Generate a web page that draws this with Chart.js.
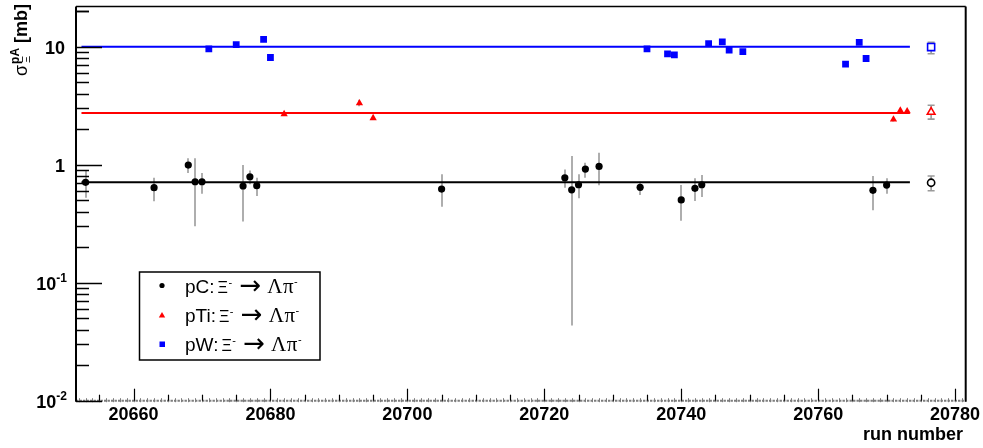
<!DOCTYPE html>
<html><head><meta charset="utf-8">
<script src="https://cdn.jsdelivr.net/npm/chart.js@4/dist/chart.umd.min.js"></script>
<style>html,body{margin:0;padding:0;background:#fff;}canvas{display:block;}</style>
</head><body>
<canvas id="c" width="983" height="448"></canvas>
<script>
// ---- data ----
const pcRuns = [20653, 20663, 20668, 20669, 20670, 20676, 20677, 20678, 20705, 20723, 20724, 20725, 20726, 20728, 20734, 20740, 20742, 20743, 20768, 20770];
const pcVals = [0.708, 0.637, 0.99, 0.716, 0.716, 0.659, 0.789, 0.663, 0.621, 0.774, 0.612, 0.675, 0.916, 0.966, 0.642, 0.502, 0.630, 0.675, 0.606, 0.671];
const pcLo   = [0.524, 0.49, 0.85, 0.30, 0.567, 0.33, 0.68, 0.542, 0.44, 0.637, 0.0434, 0.519, 0.774, 0.67, 0.553, 0.334, 0.492, 0.532, 0.41, 0.567];
const pcHi   = [0.881, 0.774, 1.13, 1.13, 0.85, 0.99, 0.893, 0.774, 0.83, 0.911, 1.18, 0.827, 1.036, 1.26, 0.716, 0.671, 0.765, 0.815, 0.80, 0.765];

const tiRuns = [20682, 20693, 20695, 20771, 20772, 20773];
const tiVals = [2.68, 3.32, 2.48, 2.41, 2.87, 2.83];
const tiLo   = [2.58, 3.12, 2.39, 2.32, 2.76, 2.73];
const tiHi   = [2.78, 3.55, 2.57, 2.50, 2.98, 2.93];

const wRuns = [20671, 20675, 20679, 20680, 20735, 20738, 20739, 20744, 20746, 20747, 20749, 20764, 20766, 20767];
const wVals = [9.57, 10.39, 11.52, 8.08, 9.57, 8.68, 8.51, 10.6, 10.96, 9.31, 9.07, 7.09, 10.87, 7.92];
const wLo   = [9.2, 10.0, 11.1, 7.75, 9.2, 8.35, 8.2, 10.2, 10.55, 8.95, 8.72, 6.8, 10.45, 7.5];
const wHi   = [9.95, 10.8, 11.95, 8.42, 9.95, 9.02, 8.85, 11.0, 11.38, 9.68, 9.43, 7.38, 11.3, 8.38];

// fitted constants (pC, pTi, pW) and fit range
const fitVals = [0.708, 2.74, 9.95];
const fitRange = [20652.4, 20773.4];

// averages shown at the right (pC, pTi, pW)
const avgRun = 20776.5;
const avgVals = [0.702, 2.79, 9.9];
const avgLo   = [0.60, 2.43, 8.68];
const avgHi   = [0.80, 3.18, 10.87];

// axes
const xRange = [20651.6, 20781.55];
const yRange = [0.01, 21.8];
const xTickVals = [20660, 20680, 20700, 20720, 20740, 20760, 20780];
const xTickLabels = ['20660', '20680', '20700', '20720', '20740', '20760', '20780'];
const yTickVals = [0.01, 0.1, 1, 10];
const yTickBase = ['10', '10', '1', '10'];
const yTickExp  = ['-2', '-1', '', ''];

const legendNames = ['pC:', 'pTi:', 'pW:'];
const seriesColors = ['#000000', '#ff0000', '#0000ff'];

const pts = (xs, ys) => xs.map((x, i) => ({x: x, y: ys[i]}));

const errBars = [
  {runs: pcRuns, lo: pcLo, hi: pcHi},
  {runs: tiRuns, lo: tiLo, hi: tiHi},
  {runs: wRuns, lo: wLo, hi: wHi}
];

const errPlugin = {
  id: 'err',
  beforeDatasetsDraw(chart) {
    const ctx = chart.ctx, xs = chart.scales.x, ys = chart.scales.y;
    ctx.save();
    ctx.strokeStyle = '#9a9a9a';
    ctx.lineWidth = 1.6;
    errBars.forEach(e => {
      e.runs.forEach((r, i) => {
        const x = Math.round(xs.getPixelForValue(r));
        ctx.beginPath();
        ctx.moveTo(x, ys.getPixelForValue(e.lo[i]));
        ctx.lineTo(x, ys.getPixelForValue(e.hi[i]));
        ctx.stroke();
      });
    });
    avgVals.forEach((v, i) => {
      const x = xs.getPixelForValue(avgRun);
      const y1 = ys.getPixelForValue(avgLo[i]), y2 = ys.getPixelForValue(avgHi[i]);
      ctx.beginPath();
      ctx.moveTo(x, y1); ctx.lineTo(x, y2);
      ctx.moveTo(x - 3.5, y1); ctx.lineTo(x + 3.5, y1);
      ctx.moveTo(x - 3.5, y2); ctx.lineTo(x + 3.5, y2);
      ctx.stroke();
    });
    ctx.restore();
  }
};

function line(ctx, x1, y1, x2, y2) {
  ctx.beginPath(); ctx.moveTo(x1, y1); ctx.lineTo(x2, y2); ctx.stroke();
}

const axesPlugin = {
  id: 'axes',
  afterDraw(chart) {
    const ctx = chart.ctx, xs = chart.scales.x, ys = chart.scales.y, ca = chart.chartArea;
    ctx.save();
    // bottom axis: grey dashed baseline with tiny grey ticks
    ctx.strokeStyle = '#7d7d7d';
    ctx.lineWidth = 2;
    ctx.setLineDash([2.4, 1.1]);
    line(ctx, ca.left, ca.bottom, ca.right, ca.bottom);
    ctx.setLineDash([]);
    ctx.lineWidth = 1;
    for (let v = 20652; v <= 20781; v += 1) {
      const x = Math.round(xs.getPixelForValue(v)) + 0.5;
      line(ctx, x, ca.bottom - 2.5, x, ca.bottom + 1.5);
    }
    // frame
    ctx.strokeStyle = '#000';
    ctx.lineWidth = 2;
    line(ctx, ca.left, ca.top, ca.left, ca.bottom + 1);
    line(ctx, ca.right, ca.top, ca.right, ca.bottom + 1);
    ctx.lineWidth = 1.5;
    line(ctx, ca.left, ca.top, ca.right, ca.top);
    // x ticks
    ctx.lineWidth = 1.2;
    for (let v = 20655; v <= 20780; v += 5) {
      const x = Math.round(xs.getPixelForValue(v)) + 0.5;
      const len = (v % 20 === 0) ? 12 : 6;
      line(ctx, x, ca.bottom, x, ca.bottom - len);
    }
    // y ticks
    ctx.lineWidth = 1.5;
    for (let d = -2; d <= 1; d++) {
      for (let m = 1; m <= 9; m++) {
        const v = m * Math.pow(10, d);
        if (v > yRange[1]) break;
        const y = Math.round(ys.getPixelForValue(v)) + 0.5;
        const len = m === 1 ? 26 : 13;
        line(ctx, ca.left, y, ca.left + len, y);
      }
    }
    const y20 = Math.round(ys.getPixelForValue(20)) + 0.5;
    line(ctx, ca.left, y20, ca.left + 13, y20);

    // x labels
    ctx.fillStyle = '#000';
    ctx.font = 'bold 18px "Liberation Sans", Arial, sans-serif';
    ctx.textAlign = 'center';
    ctx.textBaseline = 'alphabetic';
    xTickVals.forEach((v, i) => {
      ctx.fillText(xTickLabels[i], xs.getPixelForValue(v), 419.5);
    });
    ctx.textAlign = 'right';
    ctx.fillText('run number', 963, 440);

    // y labels
    yTickVals.forEach((v, i) => {
      const y = ys.getPixelForValue(v);
      if (yTickExp[i]) {
        ctx.font = 'bold 12px "Liberation Sans", Arial, sans-serif';
        ctx.textAlign = 'right';
        const ew = ctx.measureText(yTickExp[i]).width;
        ctx.fillText(yTickExp[i], 67, y - 1);
        ctx.font = 'bold 18px "Liberation Sans", Arial, sans-serif';
        ctx.fillText(yTickBase[i], 67 - ew, y + 7);
      } else {
        ctx.font = 'bold 18px "Liberation Sans", Arial, sans-serif';
        ctx.textAlign = 'right';
        ctx.fillText(yTickBase[i], 65, y + 7);
      }
    });

    // y title (rotated)
    ctx.save();
    ctx.translate(27, 76);
    ctx.rotate(-Math.PI / 2);
    ctx.textAlign = 'left';
    let cx = 0;
    ctx.font = '18px "Liberation Sans", Arial, sans-serif';
    ctx.fillText('σ', cx, 0);
    cx += ctx.measureText('σ').width + 1;
    ctx.font = 'bold 12px "Liberation Sans", Arial, sans-serif';
    ctx.fillText('pA', cx, -8);
    const w1 = ctx.measureText('pA').width;
    ctx.font = '11px "Liberation Sans", Arial, sans-serif';
    ctx.fillText('Ξ', cx + 1, 3);
    cx += w1 + 5;
    ctx.font = 'bold 18px "Liberation Sans", Arial, sans-serif';
    ctx.fillText('[mb]', cx, 0);
    ctx.restore();

    // legend
    ctx.lineWidth = 1.5;
    ctx.strokeStyle = '#000';
    ctx.strokeRect(139.5, 272, 180.5, 88);
    const rowsY = [292.5, 322, 351];
    rowsY.forEach((by, i) => {
      const my = by - 7;
      ctx.fillStyle = seriesColors[i];
      if (i === 0) {
        ctx.beginPath(); ctx.arc(162, my, 2.6, 0, Math.PI * 2); ctx.fill();
      } else if (i === 1) {
        ctx.beginPath();
        ctx.moveTo(162, my - 3); ctx.lineTo(165.2, my + 2.4); ctx.lineTo(158.8, my + 2.4); ctx.closePath(); ctx.fill();
      } else {
        ctx.fillRect(159.5, my - 2.5, 5.5, 5.5);
      }
      ctx.fillStyle = '#000';
      ctx.textAlign = 'left';
      let tx = 185;
      ctx.font = '19px "Liberation Sans", Arial, sans-serif';
      ctx.fillText(legendNames[i], tx, by);
      tx += ctx.measureText(legendNames[i]).width + 3;
      ctx.font = '16px "Liberation Sans", Arial, sans-serif';
      ctx.fillText('Ξ', tx, by);
      tx += ctx.measureText('Ξ').width + 0.5;
      ctx.font = '11px "Liberation Sans", Arial, sans-serif';
      ctx.fillText('-', tx, by - 7);
      tx += 11;
      ctx.font = '26px "DejaVu Sans", sans-serif';
      ctx.fillText('→', tx, by + 1);
      tx += ctx.measureText('→').width + 6;
      ctx.font = '21px "Liberation Serif", "Times New Roman", serif';
      ctx.fillText('Λ', tx, by);
      tx += ctx.measureText('Λ').width + 0.5;
      ctx.fillText('π', tx, by);
      tx += ctx.measureText('π').width + 0.5;
      ctx.font = '11px "Liberation Sans", Arial, sans-serif';
      ctx.fillText('-', tx, by - 8);
    });
    ctx.restore();
  }
};

const fitLine = (v, c) => ({
  type: 'line',
  data: [{x: fitRange[0], y: v}, {x: fitRange[1], y: v}],
  borderColor: c, borderWidth: 2, pointRadius: 0, fill: false
});

new Chart(document.getElementById('c'), {
  type: 'scatter',
  data: {
    datasets: [
      {data: pts(pcRuns, pcVals), pointStyle: 'circle', radius: 3.6, backgroundColor: '#000', borderColor: '#000', borderWidth: 0},
      {data: pts(tiRuns, tiVals), pointStyle: 'triangle', radius: 4.2, backgroundColor: '#ff0000', borderColor: '#ff0000', borderWidth: 0},
      {data: pts(wRuns, wVals), pointStyle: 'rect', radius: 4.8, backgroundColor: '#0000ff', borderColor: '#0000ff', borderWidth: 0},
      {data: [{x: avgRun, y: avgVals[0]}], pointStyle: 'circle', radius: 3.6, backgroundColor: '#fff', borderColor: '#000', borderWidth: 1.6},
      {data: [{x: avgRun, y: avgVals[1]}], pointStyle: 'triangle', radius: 4.4, backgroundColor: '#fff', borderColor: '#ff0000', borderWidth: 1.6},
      {data: [{x: avgRun, y: avgVals[2]}], pointStyle: 'rect', radius: 5, backgroundColor: '#fff', borderColor: '#0000ff', borderWidth: 1.6},
      fitLine(fitVals[0], '#000'),
      fitLine(fitVals[1], '#ff0000'),
      fitLine(fitVals[2], '#0000ff')
    ]
  },
  options: {
    responsive: false,
    animation: false,
    devicePixelRatio: 1,
    layout: {padding: {left: 76, right: 17.3, top: 5, bottom: 47.3}},
    plugins: {legend: {display: false}, tooltip: {enabled: false}},
    scales: {
      x: {type: 'linear', min: xRange[0], max: xRange[1], display: false},
      y: {type: 'logarithmic', min: yRange[0], max: yRange[1], display: false}
    }
  },
  plugins: [errPlugin, axesPlugin]
});
</script>
</body></html>
